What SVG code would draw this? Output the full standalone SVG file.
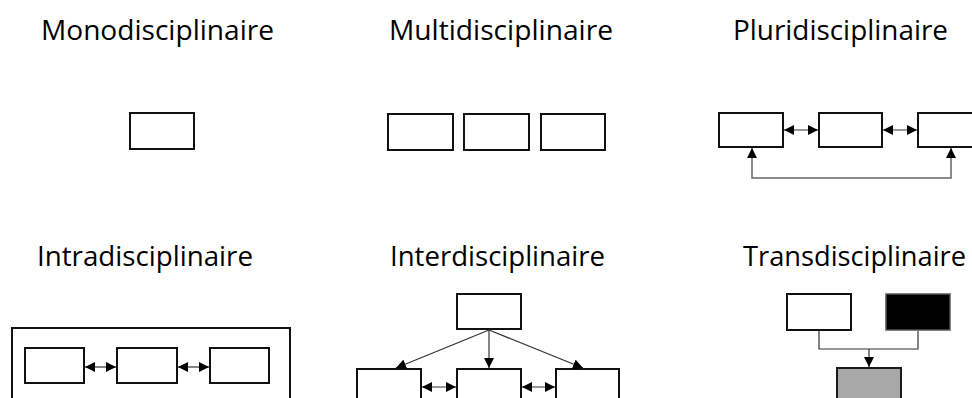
<svg xmlns="http://www.w3.org/2000/svg" width="972" height="398" viewBox="0 0 972 398">
  <style>
    .title { font-family: "Open Sans", "Liberation Sans", sans-serif; font-size: 28px; fill: #000; }
    .box { fill: #fff; stroke: #111; stroke-width: 2; }
    .conn { fill: none; stroke: #333; stroke-width: 1.2; }
    .conn-grey { fill: none; stroke: #666; stroke-width: 1.5; }
  </style>
  <defs>
    <marker id="ah" viewBox="0 0 10 10" refX="10" refY="5" markerWidth="10" markerHeight="10" markerUnits="userSpaceOnUse" orient="auto-start-reverse">
      <path d="M0,0 L10,5 L0,10 z" fill="#000"/>
    </marker>
  </defs>
  <rect width="972" height="398" fill="#fff"/>

  <!-- Titles -->
  <text class="title" x="41" y="40" textLength="233" lengthAdjust="spacingAndGlyphs">Monodisciplinaire</text>
  <text class="title" x="389" y="40" textLength="224" lengthAdjust="spacingAndGlyphs">Multidisciplinaire</text>
  <text class="title" x="733" y="40" textLength="215" lengthAdjust="spacingAndGlyphs">Pluridisciplinaire</text>
  <text class="title" x="37" y="266" textLength="216" lengthAdjust="spacingAndGlyphs">Intradisciplinaire</text>
  <text class="title" x="390" y="266" textLength="215" lengthAdjust="spacingAndGlyphs">Interdisciplinaire</text>
  <text class="title" x="743" y="266" textLength="223" lengthAdjust="spacingAndGlyphs">Transdisciplinaire</text>

  <!-- Mono -->
  <g id="mono-box"><rect class="box" x="130" y="113" width="64" height="36"/></g>

  <!-- Multi -->
  <g id="multi-box1"><rect class="box" x="388" y="114" width="65" height="36"/></g>
  <g id="multi-box2"><rect class="box" x="464" y="114" width="65" height="36"/></g>
  <g id="multi-box3"><rect class="box" x="541" y="114" width="64" height="36"/></g>

  <!-- Pluri -->
  <g id="pluri-box1"><rect class="box" x="719" y="113" width="64" height="34"/></g>
  <g id="pluri-box2"><rect class="box" x="819" y="113" width="63" height="34"/></g>
  <g id="pluri-box3"><rect class="box" x="918" y="113" width="64" height="34"/></g>

  <!-- Intra -->
  <g id="intra-frame"><rect class="box" x="12" y="328" width="278" height="80"/></g>
  <g id="intra-box1"><rect class="box" x="25" y="348" width="59" height="35"/></g>
  <g id="intra-box2"><rect class="box" x="117" y="348" width="60" height="35"/></g>
  <g id="intra-box3"><rect class="box" x="210" y="348" width="59" height="35"/></g>

  <!-- Inter -->
  <g id="inter-top"><rect class="box" x="457" y="294" width="64" height="35"/></g>
  <g id="inter-box1"><rect class="box" x="357" y="369" width="64" height="40"/></g>
  <g id="inter-box2"><rect class="box" x="457" y="369" width="64" height="40"/></g>
  <g id="inter-box3"><rect class="box" x="556" y="369" width="63" height="40"/></g>

  <!-- Trans -->
  <g id="trans-white"><rect class="box" x="787" y="294" width="64" height="36"/></g>
  <g id="trans-black"><rect x="886" y="294" width="64" height="36" fill="#000" stroke="#555" stroke-width="1.5"/></g>
  <g id="trans-grey"><rect x="837" y="368" width="64" height="40" fill="#a8a8a8" stroke="#1a1a1a" stroke-width="2"/></g>

  <!-- Connectors -->
  <g id="connectors">
    <line class="conn" x1="784" y1="130" x2="818" y2="130" marker-start="url(#ah)" marker-end="url(#ah)"/>
    <line class="conn" x1="883" y1="130" x2="917" y2="130" marker-start="url(#ah)" marker-end="url(#ah)"/>
    <path class="conn-grey" d="M752,148 V178 H951 V148" marker-start="url(#ah)" marker-end="url(#ah)"/>

    <line class="conn" x1="85" y1="367" x2="116" y2="367" marker-start="url(#ah)" marker-end="url(#ah)"/>
    <line class="conn" x1="178" y1="367" x2="209" y2="367" marker-start="url(#ah)" marker-end="url(#ah)"/>

    <line class="conn" x1="489" y1="330" x2="396" y2="368" marker-end="url(#ah)"/>
    <line class="conn" x1="489" y1="330" x2="489" y2="368" marker-end="url(#ah)"/>
    <line class="conn" x1="489" y1="330" x2="583" y2="368" marker-end="url(#ah)"/>
    <line class="conn" x1="422" y1="387" x2="456" y2="387" marker-start="url(#ah)" marker-end="url(#ah)"/>
    <line class="conn" x1="522" y1="387" x2="555" y2="387" marker-start="url(#ah)" marker-end="url(#ah)"/>

    <path class="conn" d="M819,331 V349 H918 V331"/>
    <line class="conn" x1="869" y1="349" x2="869" y2="367" marker-end="url(#ah)"/>
  </g>
</svg>
